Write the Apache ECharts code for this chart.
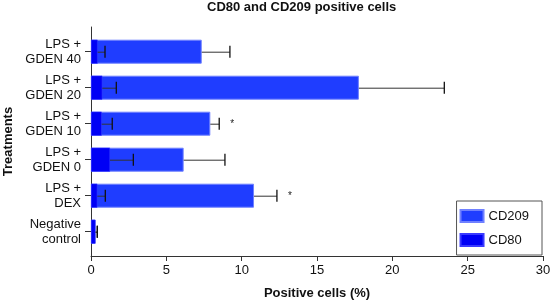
<!DOCTYPE html>
<html>
<head>
<meta charset="utf-8">
<script src="https://cdn.jsdelivr.net/npm/echarts@6/dist/echarts.min.js"></script>
<style>html,body{margin:0;padding:0;background:#fff}#c{width:551px;height:301px}</style>
</head>
<body>
<div id="c"></div>
<script>
// Categories listed bottom to top
var categories = ["Negative\ncontrol", "LPS +\nDEX", "LPS +\nGDEN 0", "LPS +\nGDEN 10", "LPS +\nGDEN 20", "LPS +\nGDEN 40"];
var cd209 = [0.3, 10.82, 6.15, 7.92, 17.78, 7.35];
var cd209Upper = [0.42, 12.34, 8.89, 8.51, 23.45, 9.22];
var cd80 = [0.3, 0.42, 1.26, 0.71, 0.75, 0.44];
var cd80Upper = [0.42, 0.95, 2.81, 1.41, 1.68, 0.93];
var significance = ["", "*", "", "*", "", ""];
var xTicks = [0, 5, 10, 15, 20, 25, 30];

var FONT = '"Liberation Sans", Arial, Helvetica, sans-serif';
var chart = echarts.init(document.getElementById('c'), null, {renderer: 'canvas'});

function errItems(vals, upper) {
  return vals.map(function (v, i) { return [i, v, upper[i], significance[i]]; });
}

function errRender(withStar) {
  return function (params, api) {
    var cat = api.value(0);
    var v = api.value(1);
    var up = api.value(2);
    var p0 = api.coord([v, cat]);
    var p1 = api.coord([up, cat]);
    var children = [
      {type: 'line', shape: {x1: p0[0], y1: p0[1] + 0.5, x2: p1[0], y2: p1[1] + 0.5}, style: {stroke: '#333', lineWidth: 1}},
      {type: 'line', shape: {x1: p1[0], y1: p1[1] - 6, x2: p1[0], y2: p1[1] + 6}, style: {stroke: '#111', lineWidth: 1.3}}
    ];
    var s = withStar ? significance[cat] : '';
    if (s) {
      children.push({type: 'text', style: {text: s, x: p1[0] + 13, y: p1[1] + 1, align: 'center', verticalAlign: 'middle', font: '10px ' + FONT, fill: '#222'}});
    }
    return {type: 'group', children: children};
  };
}

var option = {
  animation: false,
  backgroundColor: '#fff',
  textStyle: {fontFamily: FONT},
  title: {
    text: 'CD80 and CD209 positive cells',
    left: 207, top: 1, padding: 0,
    textStyle: {fontFamily: FONT, fontSize: 13, fontWeight: 'bold', color: '#111'}
  },
  legend: {
    orient: 'vertical',
    right: 9, top: 201,
    data: ['CD209', 'CD80'],
    icon: 'rect',
    itemWidth: 23, itemHeight: 12, itemGap: 10,
    padding: [8, 13, 8, 3],
    borderColor: '#555', borderWidth: 1,
    textStyle: {fontFamily: FONT, fontSize: 13, color: '#111'}
  },
  grid: [
    {left: 91, right: 8, top: 27, bottom: 45, outerBoundsMode: 'none', containLabel: false},
    {left: 91, right: 8, top: 33.7, bottom: 51.3, outerBoundsMode: 'none', containLabel: false}
  ],
  xAxis: [
    {
      gridIndex: 0, type: 'value', min: 0, max: 30, interval: 5,
      name: 'Positive cells (%)', nameLocation: 'middle', nameGap: 31,
      nameTextStyle: {fontFamily: FONT, fontSize: 13, fontWeight: 'bold', color: '#111'},
      axisLine: {show: true, lineStyle: {color: '#333', width: 1}},
      axisTick: {show: true, length: 5, lineStyle: {color: '#333'}},
      axisLabel: {fontFamily: FONT, fontSize: 13, color: '#111', margin: 8,
        formatter: function (v) { return xTicks.indexOf(v) >= 0 ? String(v) : ''; }},
      splitLine: {show: false}
    },
    {gridIndex: 1, type: 'value', min: 0, max: 30, show: false}
  ],
  yAxis: [
    {
      gridIndex: 0, type: 'value', min: 0, max: 1,
      name: 'Treatments', nameLocation: 'middle', nameGap: 76,
      nameTextStyle: {fontFamily: FONT, fontSize: 13, fontWeight: 'bold', color: '#111'},
      axisLine: {show: true, lineStyle: {color: '#333', width: 1}},
      axisTick: {show: false}, axisLabel: {show: false}, splitLine: {show: false}
    },
    {
      gridIndex: 1, type: 'category', data: categories,
      axisLine: {show: false},
      axisTick: {show: true, alignWithLabel: true, length: 6, lineStyle: {color: '#333'}},
      axisLabel: {fontFamily: FONT, fontSize: 13, color: '#111', margin: 10, lineHeight: 15, align: 'right'},
      splitLine: {show: false}
    }
  ],
  series: [
    {
      name: 'CD209', type: 'bar', xAxisIndex: 1, yAxisIndex: 1,
      data: cd209, barWidth: 24, barGap: '-100%',
      itemStyle: {color: '#1f3dff', borderColor: '#6f80ff', borderWidth: 1}
    },
    {
      name: 'CD80', type: 'bar', xAxisIndex: 1, yAxisIndex: 1,
      data: cd80, barWidth: 24, barGap: '-100%',
      itemStyle: {color: '#0000f5', borderColor: '#3a3aff', borderWidth: 0.5}
    },
    {
      type: 'custom', xAxisIndex: 1, yAxisIndex: 1, z: 5,
      data: errItems(cd209, cd209Upper), renderItem: errRender(true),
      encode: {x: [1, 2], y: 0}, silent: true
    },
    {
      type: 'custom', xAxisIndex: 1, yAxisIndex: 1, z: 5,
      data: errItems(cd80, cd80Upper), renderItem: errRender(false),
      encode: {x: [1, 2], y: 0}, silent: true
    }
  ]
};
chart.setOption(option);
</script>
</body>
</html>
